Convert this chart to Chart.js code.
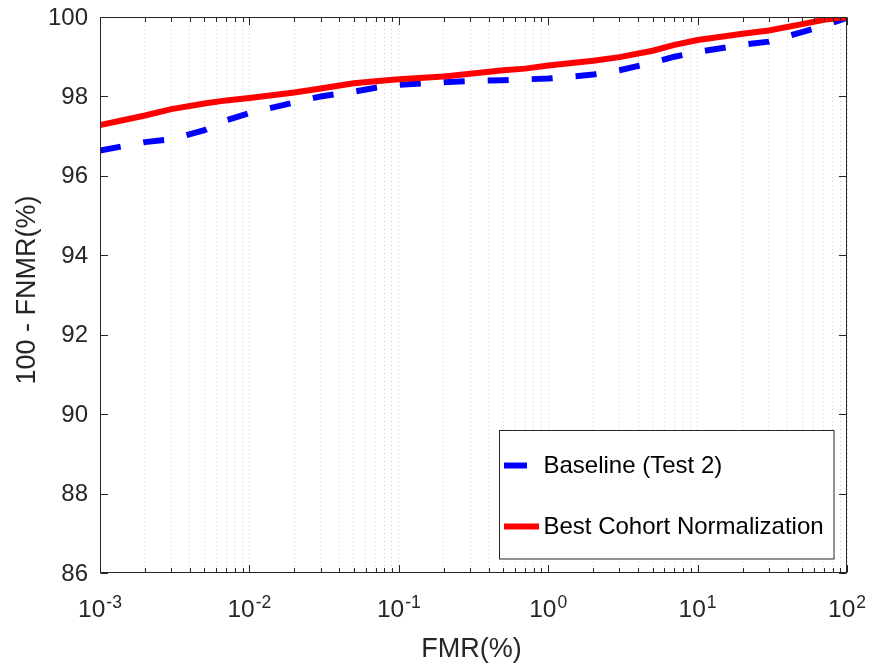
<!DOCTYPE html>
<html>
<head>
<meta charset="utf-8">
<script src="https://cdn.jsdelivr.net/npm/chart.js@4/dist/chart.umd.min.js"></script>
<style>
  html, body { margin: 0; padding: 0; background: #fff; }
  #wrap { width: 873px; height: 669px; position: relative; }
</style>
</head>
<body>
<div id="wrap"><canvas id="c" width="873" height="669"></canvas></div>
<script>
// ---- data ----
const fmr = [0.001, 0.002, 0.003, 0.005, 0.007, 0.01, 0.02, 0.03, 0.05, 0.07,
             0.1, 0.2, 0.3, 0.5, 0.7, 1, 2, 3, 5, 7, 10, 20, 30, 50, 70, 100];
const baseline = [96.64, 96.85, 96.92, 97.15, 97.40, 97.58, 97.85, 98.00, 98.12, 98.22,
                  98.29, 98.36, 98.39, 98.41, 98.43, 98.45, 98.55, 98.66, 98.85, 99.00,
                  99.12, 99.30, 99.38, 99.62, 99.78, 99.98];
const bestCohort = [97.28, 97.52, 97.68, 97.82, 97.90, 97.96, 98.10, 98.20, 98.33, 98.38,
                    98.43, 98.50, 98.57, 98.66, 98.70, 98.78, 98.90, 98.99, 99.15, 99.30,
                    99.42, 99.58, 99.66, 99.82, 99.93, 100.0];
const seriesNames = ['Baseline (Test 2)', 'Best Cohort Normalization'];
const xDecades = [-3, -2, -1, 0, 1, 2];
const yTicks = [86, 88, 90, 92, 94, 96, 98, 100];
const xTitle = 'FMR(%)';
const yTitle = '100 - FNMR(%)';

const FONT = '"Liberation Sans", Arial, Helvetica, sans-serif';
const AXIS_COLOR = '#262626';

// all minor+major positions for the log grid
const xGridValues = [];
for (let i = 0; i < xDecades.length; i++) {
  const e = xDecades[i];
  const last = i === xDecades.length - 1;
  for (let m = 1; m <= (last ? 1 : 9); m++) xGridValues.push(m * Math.pow(10, e));
}

const toPts = (ys) => fmr.map((x, i) => ({ x: x, y: ys[i] }));

const decor = {
  id: 'decor',
  afterDraw(chart) {
    const ctx = chart.ctx;
    const a = chart.chartArea;
    const xs = chart.scales.x, ys = chart.scales.y;
    ctx.save();
    // frame
    ctx.strokeStyle = AXIS_COLOR;
    ctx.lineWidth = 1;
    ctx.setLineDash([]);
    const L = Math.round(a.left) + 0.5, R = Math.round(a.right) - 0.5;
    const T = Math.round(a.top) + 0.5, B = Math.round(a.bottom) - 0.5;
    ctx.strokeRect(L, T, R - L, B - T);
    // x ticks (inward, bottom and top)
    ctx.beginPath();
    xGridValues.forEach(v => {
      const px = Math.round(xs.getPixelForValue(v)) + 0.5;
      const isMajor = Math.abs(Math.log10(v) - Math.round(Math.log10(v))) < 1e-9;
      const len = isMajor ? 7.5 : 4.5;
      ctx.moveTo(px, B); ctx.lineTo(px, B - len);
      ctx.moveTo(px, T); ctx.lineTo(px, T + len);
    });
    // y ticks (inward, left and right)
    yTicks.forEach(v => {
      const py = Math.round(ys.getPixelForValue(v)) + 0.5;
      ctx.moveTo(L, py); ctx.lineTo(L + 7.5, py);
      ctx.moveTo(R, py); ctx.lineTo(R - 7.5, py);
    });
    ctx.stroke();

    // y tick labels
    ctx.fillStyle = AXIS_COLOR;
    ctx.font = '24px ' + FONT;
    ctx.textAlign = 'right';
    ctx.textBaseline = 'middle';
    yTicks.forEach(v => {
      ctx.fillText(String(v), a.left - 12, ys.getPixelForValue(v) + 1);
    });

    // x tick labels 10^e
    ctx.textBaseline = 'alphabetic';
    ctx.textAlign = 'left';
    xDecades.forEach(e => {
      const px = xs.getPixelForValue(Math.pow(10, e));
      ctx.font = '24.5px ' + FONT;
      const wb = ctx.measureText('10').width;
      const ex = String(e);
      ctx.font = '17.5px ' + FONT;
      const we = ctx.measureText(ex).width;
      const start = px - (wb + 1 + we) / 2;
      ctx.font = '24.5px ' + FONT;
      ctx.fillText('10', start, 617);
      ctx.font = '17.5px ' + FONT;
      ctx.fillText(ex, start + wb + 1, 608);
    });

    // axis titles
    ctx.font = '27px ' + FONT;
    ctx.textAlign = 'center';
    ctx.fillStyle = AXIS_COLOR;
    ctx.fillText(xTitle, (a.left + a.right) / 2 - 2, 657);
    ctx.save();
    ctx.translate(35, (a.top + a.bottom) / 2 - 5);
    ctx.rotate(-Math.PI / 2);
    ctx.fillText(yTitle, 0, 0);
    ctx.restore();

    // legend
    const bx0 = a.right - 14, by1 = a.bottom - 15;
    const bw = 334.5, bh = 128.5;
    const bx = Math.round(bx0 - bw) + 0.5, by = Math.round(by1 - bh) + 0.5;
    ctx.fillStyle = '#ffffff';
    ctx.fillRect(bx, by, bw, bh);
    ctx.strokeStyle = AXIS_COLOR;
    ctx.lineWidth = 1;
    ctx.strokeRect(bx, by, bw, bh);
    const ds = chart.data.datasets;
    const rows = [by + 35, by + 96];
    const sampleLen = [23, 35];
    ds.forEach((d, i) => {
      ctx.strokeStyle = d.borderColor;
      ctx.lineWidth = d.borderWidth;
      ctx.lineCap = 'butt';
      ctx.setLineDash([]);
      ctx.beginPath();
      ctx.moveTo(bx + 4.5, rows[i]);
      ctx.lineTo(bx + 4.5 + sampleLen[i], rows[i]);
      ctx.stroke();
      ctx.fillStyle = '#000000';
      ctx.font = '24px ' + FONT;
      ctx.textAlign = 'left';
      ctx.textBaseline = 'middle';
      ctx.fillText(d.label, bx + 44, rows[i] + 1);
    });
    ctx.restore();
  }
};

new Chart(document.getElementById('c'), {
  type: 'line',
  data: {
    datasets: [
      {
        label: seriesNames[0],
        data: toPts(baseline),
        borderColor: '#0000ff',
        borderWidth: 6,
        borderDash: [21, 23],
        borderCapStyle: 'butt',
        pointRadius: 0,
        tension: 0,
        fill: false,
        order: 1
      },
      {
        label: seriesNames[1],
        data: toPts(bestCohort),
        borderColor: '#ff0000',
        borderWidth: 6,
        pointRadius: 0,
        tension: 0,
        fill: false,
        order: 0
      }
    ]
  },
  options: {
    responsive: false,
    animation: false,
    devicePixelRatio: 1,
    layout: { padding: { left: 100, right: 26, top: 17, bottom: 96 } },
    plugins: { legend: { display: false }, tooltip: { enabled: false } },
    scales: {
      x: {
        type: 'logarithmic',
        min: 0.001,
        max: 100,
        afterBuildTicks: (scale) => { scale.ticks = xGridValues.map(v => ({ value: v })); },
        ticks: { display: false },
        grid: { display: true, color: '#cfcfcf', lineWidth: 1, drawTicks: false },
        border: { display: false, dash: [1, 3] }
      },
      y: {
        type: 'linear',
        min: 86,
        max: 100,
        ticks: { display: false, stepSize: 2 },
        grid: { display: false, drawTicks: false },
        border: { display: false }
      }
    }
  },
  plugins: [decor]
});
</script>
</body>
</html>
